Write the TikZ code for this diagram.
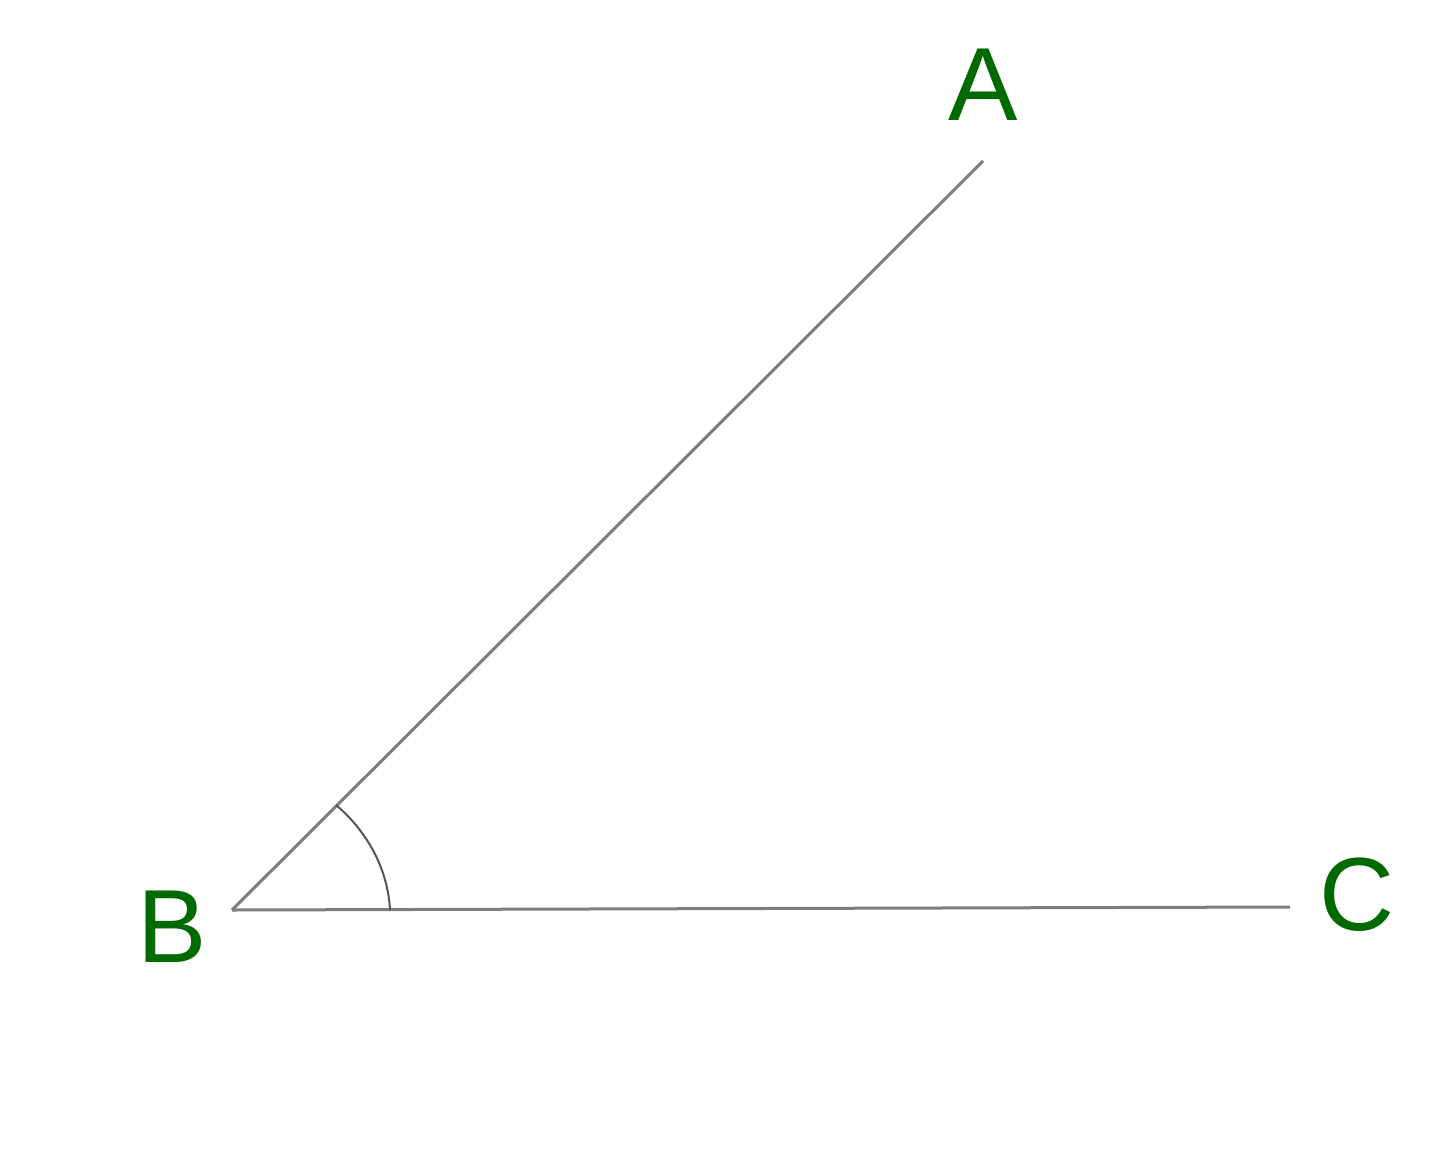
\documentclass[tikz,border=0pt]{standalone}
\usepackage{fontspec}
\setmainfont{Liberation Sans}
\usepackage{tikz}

\begin{document}
\begin{tikzpicture}[x=0.5pt,y=0.5pt,yscale=-1,xscale=1]
\useasboundingbox (0,0) rectangle (1440,1157);

%Points
\coordinate (vB) at (232,910);
\coordinate (eA) at (983,161);
\coordinate (eC) at (1290,907);
%Straight Lines
\draw [color={rgb, 255:red, 125; green, 125; blue, 125 }, line width=1.5pt] (vB) -- (eA) ;
%Straight Lines
\draw [color={rgb, 255:red, 125; green, 125; blue, 125 }, line width=1.5pt] (vB) -- (eC) ;
%Curve Lines
\draw [color={rgb, 255:red, 85; green, 85; blue, 85 }, line width=1pt] (390,910) .. controls (388,870) and (368,832) .. (336,805) ;

% Text Node
\node (A) [anchor=base, inner sep=0.75pt, text={rgb, 255:red, 0; green, 105; blue, 0 }, font=\fontsize{52}{60}\selectfont] at (983,120) {A};
% Text Node
\node (B) [anchor=base, inner sep=0.75pt, text={rgb, 255:red, 0; green, 105; blue, 0 }, font=\fontsize{52}{60}\selectfont] at (172,962) {B};
% Text Node
\node (C) [anchor=base, inner sep=0.75pt, text={rgb, 255:red, 0; green, 105; blue, 0 }, font=\fontsize{52}{60}\selectfont] at (1357,930) {C};

\end{tikzpicture}
\end{document}
